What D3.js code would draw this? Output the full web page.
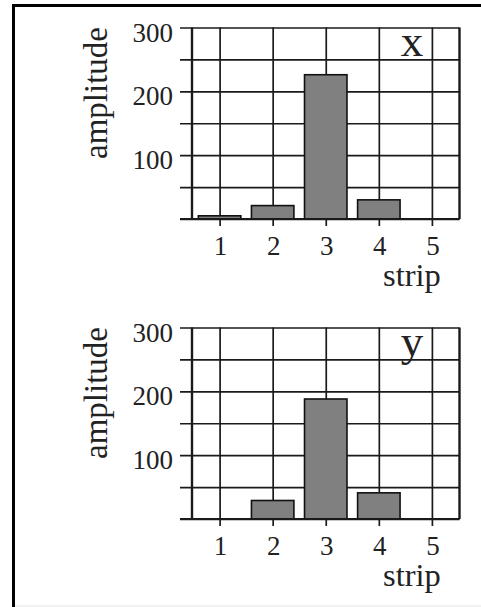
<!DOCTYPE html>
<html>
<head>
<meta charset="utf-8">
<script src="https://cdn.jsdelivr.net/npm/d3@7"></script>
<style>
  html, body { margin: 0; padding: 0; background: #fff; }
  svg { display: block; }
  text { font-family: "Liberation Serif", "Times New Roman", serif; fill: #222; }
</style>
</head>
<body>
<script>
// Strip amplitudes for the x and y planes
const strips = [1, 2, 3, 4, 5];
const ampX = [5, 21, 226, 30, 0];
const ampY = [0, 29, 188, 41, 0];
const panelNames = ["x", "y"];
const gridValues = [0, 50, 100, 150, 200, 250, 300];
const labelledValues = [100, 200, 300];
const xTitle = "strip";
const yTitle = "amplitude";

const W = 481, H = 607;
const svg = d3.select("body").append("svg").attr("width", W).attr("height", H);

// outer frame (left and top edges visible)
svg.append("rect")
  .attr("x", 13.5).attr("y", 5.5)
  .attr("width", W + 20).attr("height", H + 20)
  .attr("fill", "none").attr("stroke", "#000").attr("stroke-width", 3);
svg.append("line")
  .attr("x1", 15).attr("x2", W).attr("y1", 606).attr("y2", 606)
  .attr("stroke", "#e4e4e4").attr("stroke-width", 1);

const x = d3.scaleLinear().domain([0.48, 5.52]).range([192, 459.5]);
const y = d3.scaleLinear().domain([0, 300]).range([219, 27.5]);
const plotW = x.range()[1] - x.range()[0];
const plotH = y.range()[0] - y.range()[1];

function drawPanel(values, name, offsetY) {
  const g = svg.append("g").attr("transform", `translate(0,${offsetY})`);

  // horizontal grid lines with short ticks to the left
  const yGrid = d3.axisLeft(y).tickValues(gridValues).tickSizeInner(-plotW).tickSizeOuter(0).tickFormat("");
  const yg = g.append("g").attr("transform", `translate(${x.range()[0]},0)`).call(yGrid);
  yg.select(".domain").remove();
  yg.selectAll(".tick line").attr("stroke", "#1a1a1a").attr("stroke-width", 1.7).attr("x1", -12);

  // vertical grid lines reaching just below the bottom edge
  const xGrid = d3.axisBottom(x).tickValues(strips).tickSizeInner(-plotH).tickSizeOuter(0).tickFormat("");
  const xg = g.append("g").attr("transform", `translate(0,${y(0)})`).call(xGrid);
  xg.select(".domain").remove();
  xg.selectAll(".tick line").attr("stroke", "#1a1a1a").attr("stroke-width", 1.7).attr("y1", 7);

  // plot sides
  [x.range()[0], x.range()[1]].forEach(px => {
    g.append("line").attr("x1", px).attr("x2", px).attr("y1", y(300)).attr("y2", y(0))
      .attr("stroke", "#1a1a1a").attr("stroke-width", 2.4);
  });

  // bars
  const bars = strips.map((s, i) => ({ s, v: values[i] })).filter(d => d.v > 0);
  g.selectAll("rect.bar").data(bars).enter().append("rect")
    .attr("class", "bar")
    .attr("x", d => x(d.s - 0.4))
    .attr("width", d => x(d.s + 0.4) - x(d.s - 0.4))
    .attr("y", d => y(d.v))
    .attr("height", d => y(0) - y(d.v))
    .attr("fill", "#808080").attr("stroke", "#111").attr("stroke-width", 1.6);

  // bottom edge over the bars
  g.append("line").attr("x1", x.range()[0] - 12).attr("x2", x.range()[1])
    .attr("y1", y(0)).attr("y2", y(0)).attr("stroke", "#1a1a1a").attr("stroke-width", 2);

  // tick labels
  g.selectAll("text.ylab").data(labelledValues).enter().append("text")
    .attr("class", "ylab")
    .attr("x", 173).attr("y", d => y(d) + 14)
    .attr("text-anchor", "end").attr("font-size", 27)
    .text(d => d);
  g.selectAll("text.xlab").data(strips).enter().append("text")
    .attr("class", "xlab")
    .attr("x", d => x(d) + 1).attr("y", y(0) + 36)
    .attr("text-anchor", "middle").attr("font-size", 27)
    .text(d => d);

  // axis titles
  g.append("text").attr("x", 383).attr("y", 286)
    .attr("font-size", 32.5).text(xTitle);
  g.append("text")
    .attr("transform", `translate(107,93) rotate(-90)`)
    .attr("text-anchor", "middle").attr("font-size", 33)
    .text(yTitle);

  // panel name
  g.append("text").attr("x", 412).attr("y", 56)
    .attr("text-anchor", "middle").attr("font-size", 45)
    .text(name);
}

drawPanel(ampX, panelNames[0], 0);
drawPanel(ampY, panelNames[1], 300);
</script>
</body>
</html>
